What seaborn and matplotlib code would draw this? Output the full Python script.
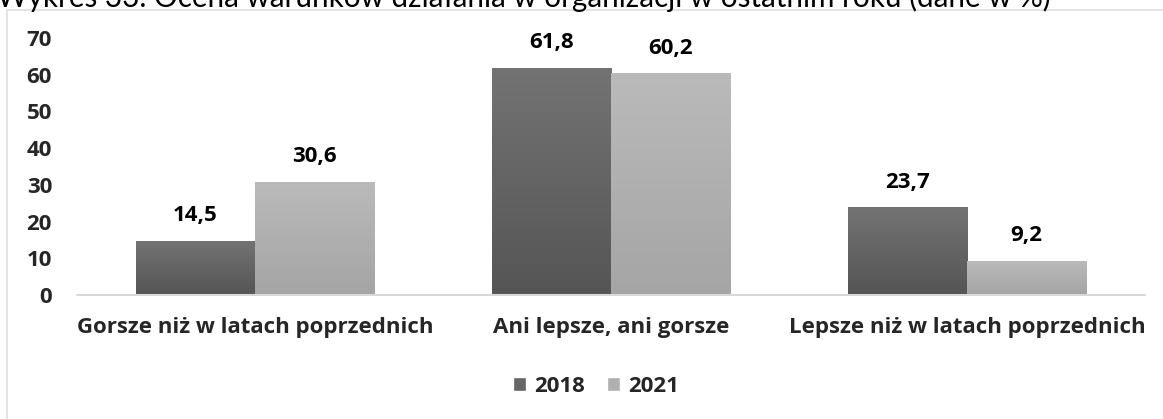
import numpy as np
import pandas as pd
import matplotlib
matplotlib.use("Agg")
import matplotlib.pyplot as plt
import seaborn as sns
from matplotlib.colors import LinearSegmentedColormap
from matplotlib.patches import Rectangle, Patch

categories = [
    "Gorsze niż w latach poprzednich",
    "Ani lepsze, ani gorsze",
    "Lepsze niż w latach poprzednich",
]
years = ["2018", "2021"]
values_2018 = [14.5, 61.8, 23.7]
values_2021 = [30.6, 60.2, 9.2]
yticks = [0, 10, 20, 30, 40, 50, 60, 70]
title = "Wykres 33. Ocena warunków działania w organizacji w ostatnim roku (dane w %)"

df = pd.DataFrame({
    "kategoria": categories * 2,
    "rok": [years[0]] * len(categories) + [years[1]] * len(categories),
    "wartosc": values_2018 + values_2021,
})

sns.set_theme(style="white")
plt.rcParams["font.family"] = ["Open Sans", "DejaVu Sans"]

W, H = 1163, 419
fig = plt.figure(figsize=(W / 100, H / 100), dpi=100)
ax = fig.add_axes([77 / W, 1 - 295 / H, (1145 - 77) / W, (295 - 38) / H])

palette = {"2018": "#666666", "2021": "#b0b0b0"}
sns.barplot(data=df, x="kategoria", y="wartosc", hue="rok", order=categories,
            hue_order=years, palette=palette, width=0.67, saturation=1,
            ax=ax, legend=False, edgecolor="none", linewidth=0)

# vertical gradient fill over every bar
grads = {"2018": ("#555555", "#737373"), "2021": ("#a5a5a5", "#bababa")}
for year, cont in zip(years, ax.containers):
    cmap = LinearSegmentedColormap.from_list("g" + year, list(grads[year]))
    for bar in cont:
        x0, y0 = bar.get_x(), bar.get_y()
        w, h = bar.get_width(), bar.get_height()
        ax.imshow(np.linspace(0, 1, 256).reshape(-1, 1),
                  extent=(x0, x0 + w, y0, y0 + h), origin="lower",
                  cmap=cmap, aspect="auto", zorder=bar.get_zorder() + 0.1)
    ax.bar_label(cont, labels=[f"{v:.1f}".replace(".", ",") for v in cont.datavalues],
                 padding=11, fontsize=16, fontweight="bold", color="black")

ax.set_xlim(-0.5, len(categories) - 0.5)
ax.set_ylim(0, 70)
ax.set_yticks(yticks)
ax.set_yticklabels([str(t) for t in yticks], fontsize=16, fontweight="bold")
ax.set_xticks(range(len(categories)))
ax.set_xticklabels(categories, fontsize=16, fontweight="bold")
ax.tick_params(axis="y", length=0, pad=18)
ax.tick_params(axis="x", length=0, pad=16)
ax.set_xlabel("")
ax.set_ylabel("")
for s in ax.spines.values():
    s.set_visible(False)
ax.axhline(0, color="#d9d9d9", lw=1.5, zorder=5, clip_on=False)

# chart frame
fig.add_artist(Rectangle((7 / W, -0.01), 1.0, 1 - 10 / H + 0.01,
                         transform=fig.transFigure, fill=False,
                         edgecolor="#dde0e4", lw=1.2))

fig.text(-3 / W, 1 - 7 / H, title, ha="left", va="baseline", fontsize=21.3,
         color="black", family=["Lato", "DejaVu Sans"])

handles = [Patch(facecolor="#666666"), Patch(facecolor="#b0b0b0")]
fig.legend(handles, years, loc="center", bbox_to_anchor=(596 / W, 1 - 386 / H),
           ncol=2, frameon=False, prop={"weight": "bold", "size": 16},
           handlelength=0.6, handleheight=0.6, handletextpad=0.35,
           columnspacing=1.0)

fig.savefig("out.png", dpi=100)
